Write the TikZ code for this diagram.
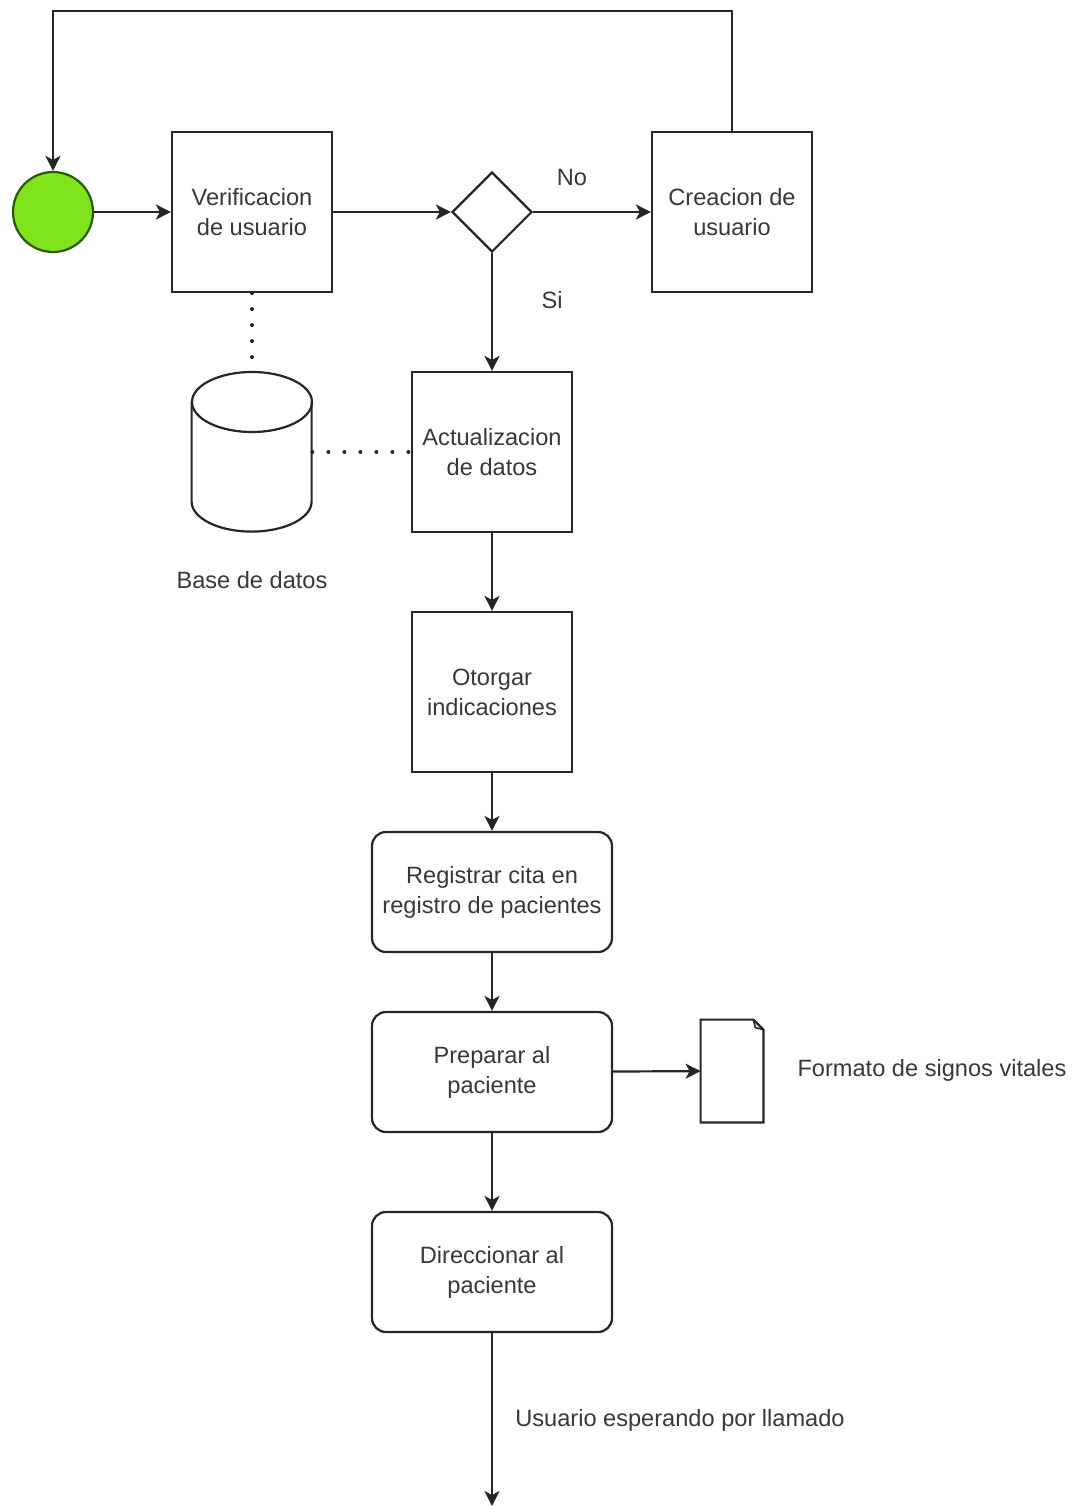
\documentclass[tikz,border=0pt]{standalone}
\usepackage{fontspec}
\setmainfont{Liberation Sans}
\usetikzlibrary{shapes.geometric,arrows.meta}

\begin{document}
\begin{tikzpicture}[x=0.5pt, y=0.5pt, every node/.style={font=\fontsize{11.8}{15}\selectfont, text=black!78}]
  \definecolor{verde}{RGB}{128,228,28} \definecolor{verdeosc}{RGB}{40,90,10} \colorlet{linea}{black!85}
  \tikzstyle{edge}=[-{Stealth[length=7.5pt,width=7.5pt,inset=2pt]}, line width=1.1pt, draw=linea]
  \tikzstyle{punto}=[line width=2pt, draw=linea, dash pattern=on 0pt off 8pt, line cap=round]
  \tikzstyle{caja}=[draw=linea, line width=1.1pt, minimum width=80pt, minimum height=80pt, align=center, inner sep=1pt]
  \tikzstyle{redon}=[draw=linea, line width=1.1pt, rounded corners=7pt, minimum width=120pt, minimum height=60pt, align=center, inner sep=1pt]
  \useasboundingbox (0,0) rectangle (1079,-1506);

  \node[circle, draw=verdeosc, line width=1.1pt, fill=verde, minimum size=40pt] (start) at (53,-212) {};
  \node[caja] (verif) at (252,-212) {Verificacion\\de usuario};
  \node[diamond, draw=linea, line width=1.1pt, minimum width=40pt, minimum height=40pt, inner sep=0pt] (decis) at (492,-212) {};
  \node[caja] (creat) at (732,-212) {Creacion de\\usuario};
  \node[caja] (actua) at (492,-452) {Actualizacion\\de datos};
  \node[minimum width=60pt, minimum height=80pt, inner sep=0pt] (bdd) at (252,-452) {};
  \node (bddlab) at (252,-580) {Base de datos};
  \node[caja] (otorg) at (492,-692) {Otorgar\\indicaciones};
  \node[redon] (regis) at (492,-892) {Registrar cita en\\registro de pacientes};
  \node[redon] (prepa) at (492,-1072) {Preparar al\\paciente};
  \node[minimum width=31pt, minimum height=51pt, inner sep=0pt] (doc) at (732,-1071) {};
  \node (doclab) at (932,-1070) {Formato de signos vitales};
  \node[redon] (direc) at (492,-1272) {Direccionar al\\paciente};
  \coordinate (fin) at (492,-1506);

  % base de datos
  \draw[linea, line width=1.1pt, fill=white] (bdd.north west) ++(0,-30) -- ++(0,-100)
    arc[start angle=180, end angle=360, x radius=30pt, y radius=15pt] -- ++(0,100);
  \draw[linea, line width=1.1pt] (252,-402) ellipse [x radius=30pt, y radius=15pt];
  % documento
  \draw[linea, line width=1.1pt] (doc.north west) -- ([xshift=-5pt]doc.north east) -- ([yshift=-5pt]doc.north east)
    -- (doc.south east) -- (doc.south west) -- cycle;
  \draw[linea, line width=0.8pt] ([xshift=-5pt]doc.north east) -- ([xshift=-4pt,yshift=-4pt]doc.north east) -- ([yshift=-5pt]doc.north east);

  \draw[edge] (start) -- (verif);
  \draw[edge] (verif) -- (decis);
  \draw[edge] (decis) -- (creat);
  \node (no) at (572,-177) {No};
  \draw[edge] (creat.north) -- ++(0,120) -| (start.north);
  \draw[edge] (decis.south) -- (actua.north);
  \node (si) at (552,-300) {Si};
  \draw[punto] (verif.south) -- (bdd.north);
  \draw[punto] (bdd.east) -- (actua.west);
  \foreach \a/\b in {actua/otorg, otorg/regis, regis/prepa, prepa/direc} {
    \draw[edge] (\a) -- (\b);
  }
  \draw[edge] (prepa) -- (doc);
  \draw[edge] (direc.south) -- (fin);
  \node (espera) at (680,-1420) {Usuario esperando por llamado};
\end{tikzpicture}
\end{document}
